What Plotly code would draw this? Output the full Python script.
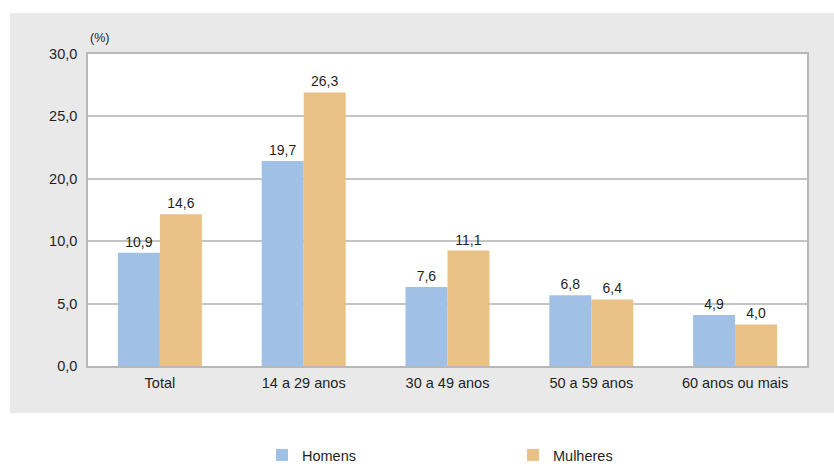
import plotly.graph_objects as go

categories = ["Total", "14 a 29 anos", "30 a 49 anos", "50 a 59 anos", "60 anos ou mais"]
homens = [10.9, 19.7, 7.6, 6.8, 4.9]
mulheres = [14.6, 26.3, 11.1, 6.4, 4.0]
tick_positions = [0, 6, 12, 18, 24, 30]
tick_labels = ["0,0", "5,0", "10,0", "20,0", "25,0", "30,0"]

W, H = 834, 464
L, R, T, B = 88, 27, 54, 98
pw, ph = W - L - R, H - T - B

FONT = "Liberation Sans, Arial, sans-serif"
TXT = "#1f1f1f"
BLUE = "#A0C0E6"
ORANGE = "#E9C186"
FS = 14.5

fig = go.Figure()
fig.add_trace(go.Bar(name="Homens", x=categories, y=homens, marker_color=BLUE,
                     marker_line_width=0, texttemplate="%{y:.1f}", textposition="outside",
                     textfont=dict(family=FONT, size=14, color=TXT), cliponaxis=False))
fig.add_trace(go.Bar(name="Mulheres", x=categories, y=mulheres, marker_color=ORANGE,
                     marker_line_width=0, texttemplate="%{y:.1f}", textposition="outside",
                     textfont=dict(family=FONT, size=14, color=TXT), cliponaxis=False))

def px(x):
    return (x - L) / pw

def py(y):
    return (H - B - y) / ph

fig.update_layout(
    width=W, height=H,
    margin=dict(l=L, r=R, t=T, b=B),
    paper_bgcolor="white",
    plot_bgcolor="rgba(0,0,0,0)",
    separators=",.",
    barmode="group",
    bargap=0.416,
    bargroupgap=0,
    font=dict(family=FONT, size=FS, color=TXT),
    showlegend=True,
    legend=dict(orientation="h", xref="container", yref="container",
                x=262 / W, y=9 / H, xanchor="left", yanchor="middle",
                entrywidth=206, bgcolor="rgba(0,0,0,0)",
                font=dict(family=FONT, size=FS, color=TXT)),
    shapes=[
        dict(type="rect", xref="paper", yref="paper", x0=px(10), x1=px(834), y0=py(13), y1=py(413),
             fillcolor="#E9E9E9", line_width=0, layer="below"),
        dict(type="rect", xref="paper", yref="paper", x0=0, x1=1, y0=0, y1=1,
             fillcolor="white", line_width=0, layer="below"),
    ],
    annotations=[
        dict(text="(%)", xref="paper", yref="paper", x=0, y=1, xanchor="left", yanchor="bottom",
             yshift=7, showarrow=False, font=dict(family=FONT, size=12.5, color=TXT)),
    ],
)
fig.update_xaxes(showline=True, linecolor="#B8B8B8", linewidth=1.5, mirror=True,
                 showgrid=False, ticks="", tickfont=dict(family=FONT, size=FS, color=TXT),
                 ticklabelstandoff=3)
fig.update_yaxes(range=[0, 30], tickvals=tick_positions, ticktext=tick_labels,
                 showgrid=True, gridcolor="#C4C4C4", gridwidth=1.5,
                 showline=True, linecolor="#B8B8B8", linewidth=1.5, mirror=True,
                 zeroline=False, ticks="", ticklabelstandoff=6,
                 tickfont=dict(family=FONT, size=FS, color=TXT))

fig.write_html("out.html")
